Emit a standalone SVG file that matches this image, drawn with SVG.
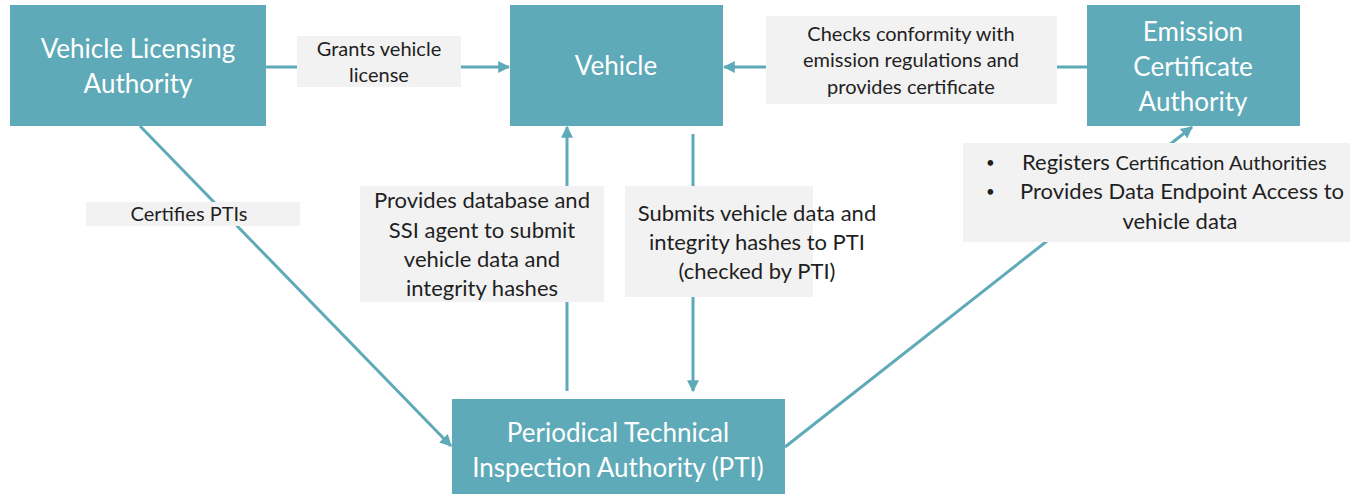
<svg xmlns="http://www.w3.org/2000/svg" width="1350" height="494" viewBox="0 0 1350 494">
  <style>
    .node { fill: #5eaab8; }
    .node-text { fill: #ffffff; font-family: Lato, "Open Sans", sans-serif; font-size: 26px; text-anchor: middle; }
    .label { fill: #f2f2f2; }
    .label-text { fill: #1f1f1f; font-family: Lato, "Open Sans", sans-serif; font-size: 22px; text-anchor: middle; }
    .small { font-size: 20px; }
    .left { text-anchor: start; }
    .bullet { font-size: 15px; }
    .edge { stroke: #5eaab8; stroke-width: 3; fill: none; marker-end: url(#arrow); }
  </style>
  <defs>
    <marker id="arrow" viewBox="0 0 10 10" refX="9" refY="5" markerWidth="4" markerHeight="4" orient="auto" markerUnits="strokeWidth">
      <path d="M0,0 L10,5 L0,10 z" fill="#5eaab8"/>
    </marker>
  </defs>
  <rect width="1350" height="494" fill="#ffffff"/>

  <!-- connectors -->
  <g id="connectors">
    <line class="edge" x1="266" y1="67" x2="509" y2="67"/>
    <line class="edge" x1="1087" y1="67" x2="724" y2="67"/>
    <line class="edge" x1="140" y1="126" x2="451" y2="446"/>
    <line class="edge" x1="567" y1="391" x2="567" y2="127"/>
    <line class="edge" x1="693" y1="134" x2="693" y2="391"/>
    <line class="edge" x1="785" y1="447" x2="1192" y2="127"/>
  </g>

  <!-- edge labels -->
  <g id="label-grants">
    <rect class="label" x="297" y="36" width="164" height="51"/>
    <text class="label-text small" x="379" y="56">Grants vehicle</text>
    <text class="label-text small" x="379" y="82">license</text>
  </g>
  <g id="label-checks">
    <rect class="label" x="766" y="16" width="291" height="88"/>
    <text class="label-text small" x="911" y="41">Checks conformity with</text>
    <text class="label-text small" x="911" y="67">emission regulations and</text>
    <text class="label-text small" x="911" y="94">provides certificate</text>
  </g>
  <g id="label-certifies">
    <rect class="label" x="86" y="202" width="214" height="24"/>
    <text class="label-text small" x="189" y="221">Certifies PTIs</text>
  </g>
  <g id="label-provides">
    <rect class="label" x="360" y="186" width="244" height="116"/>
    <text class="label-text" x="482" y="208">Provides database and</text>
    <text class="label-text" x="482" y="238">SSI agent to submit</text>
    <text class="label-text" x="482" y="267">vehicle data and</text>
    <text class="label-text" x="482" y="296">integrity hashes</text>
  </g>
  <g id="label-submits">
    <rect class="label" x="625" y="186" width="188" height="111"/>
    <text class="label-text" x="757" y="221">Submits vehicle data and</text>
    <text class="label-text" x="757" y="250">integrity hashes to PTI</text>
    <text class="label-text" x="757" y="279">(checked by PTI)</text>
  </g>
  <g id="label-registers">
    <rect class="label" x="963" y="143" width="387" height="99"/>
    <text class="label-text left bullet" x="986" y="168">•</text>
    <text class="label-text left" x="1022" y="170">Registers <tspan font-size="20">Certification Authorities</tspan></text>
    <text class="label-text left bullet" x="986" y="197">•</text>
    <text class="label-text left" x="1020" y="199">Provides Data Endpoint Access to</text>
    <text class="label-text" x="1180" y="229">vehicle data</text>
  </g>

  <!-- nodes -->
  <g id="node-vla">
    <rect class="node" x="10" y="5" width="256" height="121"/>
    <text class="node-text" x="138" y="58">Vehicle Licensing</text>
    <text class="node-text" x="138" y="93">Authority</text>
  </g>
  <g id="node-vehicle">
    <rect class="node" x="510" y="5" width="213" height="121"/>
    <text class="node-text" x="616" y="75">Vehicle</text>
  </g>
  <g id="node-emission">
    <rect class="node" x="1087" y="5" width="213" height="121"/>
    <text class="node-text" x="1193" y="41">Emission</text>
    <text class="node-text" x="1193" y="76">Certificate</text>
    <text class="node-text" x="1193" y="111">Authority</text>
  </g>
  <g id="node-pti">
    <rect class="node" x="452" y="399" width="333" height="95"/>
    <text class="node-text" x="618" y="442">Periodical Technical</text>
    <text class="node-text" x="618" y="477">Inspection Authority (PTI)</text>
  </g>
</svg>
